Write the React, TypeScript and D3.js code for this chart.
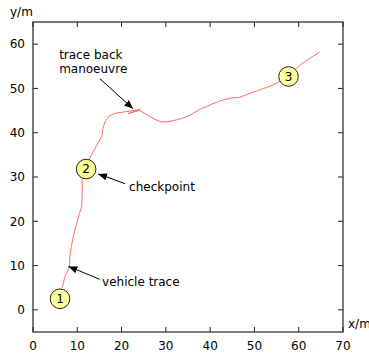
import React from "react";
import * as d3 from "d3";

const traceX = [6.6, 7.2, 8.2, 8.3, 8.35, 8.7, 9.1, 9.6, 10.5, 11.0, 11.1, 11.1, 11.6, 12.4, 13.2, 14.3, 15.5, 15.9, 16.4, 17.0, 18.5, 20.0, 21.2, 22.8, 24.2, 22.8, 21.5, 22.8, 24.0, 25.2, 26.4, 28.7, 30.2, 32.4, 33.5, 35.5, 37.5, 40.0, 42.3, 44.5, 46.7, 49.0, 51.3, 54.3, 56.5, 57.7, 59.9, 62.2, 64.7];
const traceY = [5.0, 7.5, 9.6, 11.0, 12.4, 14.5, 16.6, 18.5, 21.8, 23.3, 26.0, 29.4, 31.5, 33.5, 35.0, 37.0, 39.1, 41.4, 42.8, 43.6, 44.4, 44.6, 44.8, 45.0, 45.3, 44.8, 44.3, 44.7, 45.0, 44.4, 43.6, 42.5, 42.4, 42.9, 43.2, 44.0, 45.2, 46.3, 47.2, 47.8, 48.0, 48.9, 49.7, 50.8, 52.0, 52.7, 54.9, 56.6, 58.2];

const cpX = [6.1, 12.0, 57.7];
const cpY = [2.5, 31.8, 52.7];
const cpLabels = ["1", "2", "3"];

const xTicks = [0, 10, 20, 30, 40, 50, 60, 70];
const yTicks = [0, 10, 20, 30, 40, 50, 60];

const annLines = [["trace back", "manoeuvre"], ["checkpoint"], ["vehicle trace"]];
const annTextX = [5.9, 21.7, 15.6];
const annTextY = [56.7, 26.9, 5.5];
const arrowFromX = [15.1, 20.8, 15.1];
const arrowFromY = [52.2, 28.5, 6.9];
const arrowToX = [22.6, 14.7, 8.0];
const arrowToY = [45.4, 30.7, 9.8];

export default function App() {
  const W = 369, H = 354;
  const L = 33, R = 343, T = 22, B = 332;
  const x = d3.scaleLinear().domain([0, 70]).range([L, R]);
  const y = d3.scaleLinear().domain([-5, 65]).range([B, T]);
  const line = d3.line<number>().x((d, i) => x(traceX[i])).y((d, i) => y(traceY[i]));
  const font = "DejaVu Sans, sans-serif";
  const tl = 5;
  return (
    <svg width={W} height={H} style={{ position: "absolute", left: 0, top: 0 }} fontFamily={font}>
      <defs>
        <marker id="ah" viewBox="0 0 10 10" refX="10" refY="5" markerWidth="9" markerHeight="9" markerUnits="userSpaceOnUse" orient="auto">
          <path d="M0,1 L10,5 L0,9 z" fill="#000" />
        </marker>
      </defs>
      <rect x={L} y={T} width={R - L} height={B - T} fill="none" stroke="#222" strokeWidth={1.2} />
      {xTicks.map((t) => (
        <g key={"x" + t}>
          <line x1={x(t)} x2={x(t)} y1={B} y2={B - tl} stroke="#222" />
          <line x1={x(t)} x2={x(t)} y1={T} y2={T + tl} stroke="#222" />
          <text x={x(t)} y={350} fontSize={12} textAnchor="middle" fill="#000">{t}</text>
        </g>
      ))}
      {yTicks.map((t) => (
        <g key={"y" + t}>
          <line x1={L} x2={L + tl} y1={y(t)} y2={y(t)} stroke="#222" />
          <line x1={R} x2={R - tl} y1={y(t)} y2={y(t)} stroke="#222" />
          <text x={25} y={y(t)} dy="0.36em" fontSize={12} textAnchor="end" fill="#000">{t}</text>
        </g>
      ))}
      <text x={10} y={15.5} fontSize={12} fill="#000">y/m</text>
      <text x={348} y={328} fontSize={12} fill="#000">x/m</text>
      <path d={line(traceX) || ""} fill="none" stroke="#ff6a6a" strokeWidth={1} />
      {annLines.map((lines, i) => (
        <g key={"a" + i}>
          <line x1={x(arrowFromX[i])} y1={y(arrowFromY[i])} x2={x(arrowToX[i])} y2={y(arrowToY[i])} stroke="#000" strokeWidth={1} markerEnd="url(#ah)" />
          {lines.map((s, j) => (
            <text key={j} x={x(annTextX[i])} y={y(annTextY[i]) + j * 14} fontSize={12} fill="#000">{s}</text>
          ))}
        </g>
      ))}
      {cpLabels.map((c, i) => (
        <g key={"c" + i}>
          <circle cx={x(cpX[i])} cy={y(cpY[i])} r={9.8} fill="#ffff99" stroke="#222" strokeWidth={1} />
          <text x={x(cpX[i])} y={y(cpY[i])} dy="0.36em" fontSize={12} textAnchor="middle" fill="#000">{c}</text>
        </g>
      ))}
    </svg>
  );
}
